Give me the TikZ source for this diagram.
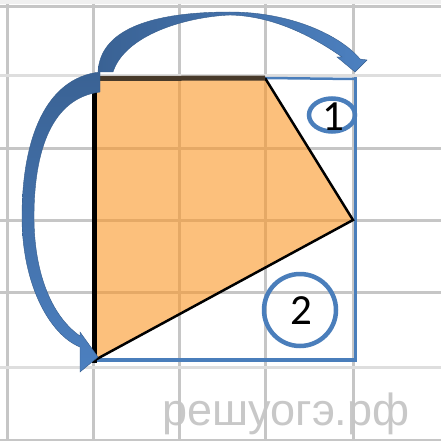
\documentclass[tikz,border=0pt]{standalone}
\usepackage{fontspec}
\setmainfont{Carlito}
\newfontfamily\wmfont{Liberation Sans}
\definecolor{gridc}{RGB}{198,198,198}
\definecolor{gridl}{RGB}{222,222,222}
\definecolor{orangef}{RGB}{250,151,38}
\definecolor{officeblue}{RGB}{74,126,187}
\definecolor{arrowdark}{RGB}{58,98,148}
\definecolor{arrowlight}{RGB}{76,128,192}
\definecolor{arrowedge}{RGB}{52,92,140}
\definecolor{topedge}{RGB}{72,58,42}
\definecolor{wmc}{RGB}{200,200,200}
\tikzset{
  gridline/.style={draw=gridc, line width=3pt},
  blockarrow/.style={draw=arrowedge, line width=0.4pt},
  bluebox/.style={draw=officeblue, line cap=rect},
  numring/.style={draw=officeblue, line width=4.5pt},
  numtext/.style={font=\fontsize{43}{43}\selectfont, text=black, inner sep=0pt}
}
\begin{document}
\begin{tikzpicture}[x=1pt,y=-1pt]
\useasboundingbox (0,0) rectangle (441,441);
\fill[white] (0,0) rectangle (441,441);
\fill[gray!12] (0,0) rectangle (441,4);
% watermark
\node[anchor=base, text=wmc, font=\wmfont\fontsize{45}{45}\selectfont, inner sep=0pt] (wm) at (286,425) {решуогэ.рф};
% grid
\foreach \x in {7,93,179,265,353} \draw[gridline] (\x,4) -- (\x,441);
\foreach \y in {7,148,220,292,440} \draw[gridline] (0,\y) -- (441,\y);
\draw[gridline, draw=gridl] (0,76) -- (441,76);
\draw[gridline, draw=gridl] (0,367) -- (441,367);
% coordinates
\coordinate (A) at (95,78);
\coordinate (B) at (265,78);
\coordinate (C) at (353,220);
\coordinate (D) at (95,360);
\coordinate (E) at (355,79);
\coordinate (F) at (355,360);
% polygon fill
\fill[orangef, fill opacity=0.6] (A) -- (B) -- (C) -- (D) -- cycle;
% blue rectangle
\draw[bluebox, line width=2.5pt] (B) -- (E);
\draw[bluebox, line width=3pt] (E) -- (F);
\draw[bluebox, line width=4.5pt] (F) -- (97,360);
% polygon edges
\draw[black, line width=2.5pt] (B) -- (C) -- (D);
\draw[black, line width=5pt] (94.5,92) -- (94.5,363);
\draw[topedge, line width=5pt] (98,78.5) -- (B);
% upper arrow
\shade[blockarrow, left color=arrowdark, right color=arrowlight]
  (98,72) .. controls (100,30) and (150,12) .. (230,12)
  .. controls (290,12) and (340,35) .. (360,59) -- (367,60) -- (355,72) -- (337,57) -- (342,57)
  .. controls (315,38) and (275,16) .. (230,15)
  .. controls (185,17) and (125,35) .. (113,72) -- cycle;
% lower arrow
\shade[blockarrow, top color=arrowdark, bottom color=arrowlight]
  (100,72) .. controls (45,78) and (22,140) .. (22,217)
  .. controls (22,285) and (50,335) .. (80,347) -- (80,372) -- (98,357) -- (80,332) -- (80,336)
  .. controls (50,315) and (34,270) .. (34,217)
  .. controls (34,150) and (52,98) .. (100,92) -- cycle;
% numbered rings
\draw[numring] (332,115) ellipse [x radius=23, y radius=16.5];
\node[numtext] (n1) at (333,116.5) {1};
\draw[numring] (300,310) circle [radius=36];
\node[numtext] (n2) at (301,310.5) {2};
\end{tikzpicture}
\end{document}
